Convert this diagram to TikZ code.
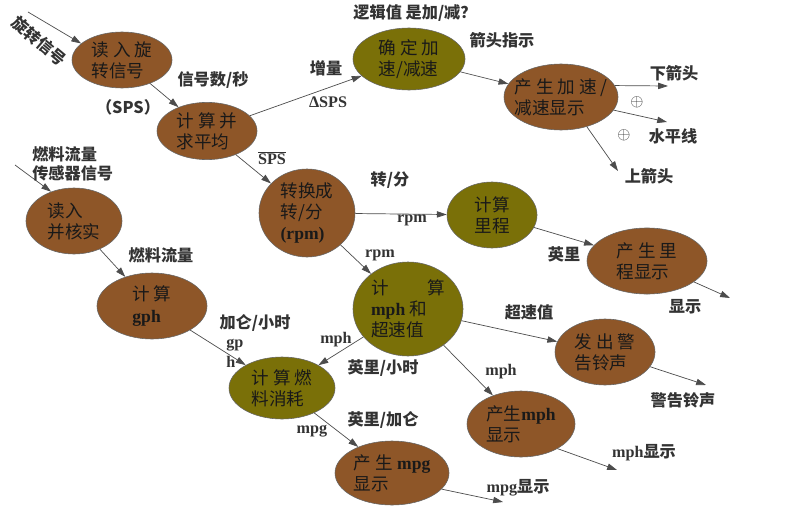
\documentclass[tikz,border=0pt]{standalone}
\usepackage{fontspec}
\setmainfont{Liberation Serif}
\newfontfamily\zhfont{Noto Sans CJK SC}
\newcommand{\zh}[1]{{\zhfont #1}}
\usetikzlibrary{arrows.meta,shapes.geometric}
\definecolor{procbrown}{RGB}{142,86,40}
\definecolor{procolive}{RGB}{122,112,8}

\begin{document}
\begin{tikzpicture}[x=0.025cm,y=-0.025cm,>={Triangle[length=7pt,width=4.5pt]},
  blob/.style={ellipse,draw=black!60,line width=0.4pt,inner sep=0pt},
  brownblob/.style 2 args={blob,fill=procbrown,minimum width=#1cm,minimum height=#2cm},
  oliveblob/.style 2 args={blob,fill=procolive,minimum width=#1cm,minimum height=#2cm},
  blobtext/.style={align=left,font=\fontsize{12.5}{15}\selectfont,text=black!90},
  lbl/.style={font=\bfseries\fontsize{11.5}{14}\selectfont,text=black!80,inner sep=0pt},
  flow/.style={->,draw=black!70,line width=0.5pt}]
\useasboundingbox (0,0) rectangle (799,512);

% processes
\node[brownblob={2.5}{1.4},label={[blobtext]center:{\zh{读 入 旋}\\\zh{转信号}}}] (readrot) at (122,60) {};
\node[brownblob={2.5}{1.43},label={[blobtext]center:{\zh{计 算 并}\\\zh{求平均}}}] (avg) at (207,131) {};
\node[oliveblob={2.8}{1.55},label={[blobtext]center:{\zh{确 定 加}\\\zh{速/减速}}}] (accel) at (409,59) {};
\node[brownblob={2.85}{1.65},label={[blobtext]center:{\zh{产 生 加 速 /}\\\zh{减速显示}}}] (acceldisp) at (561,97) {};
\node[brownblob={2.4}{1.65},label={[blobtext]center:{\zh{读入}\\\zh{并核实}}}] (readfuel) at (74,221) {};
\node[brownblob={2.75}{1.65},label={[blobtext]center:{\zh{计 算}\\\textbf{gph}}}] (gph) at (152,306) {};
\node[brownblob={2.4}{2.2},label={[blobtext]center:{\zh{转换成}\\\zh{转/分}\\\textbf{(rpm)}}}] (rpm) at (307,213) {};
\node[oliveblob={2.25}{1.65},label={[blobtext]center:{\zh{计算}\\\zh{里程}}}] (mileage) at (492,215) {};
\node[oliveblob={2.75}{2.35},label={[blobtext]center:{\zh{计}\hspace{2.2em}\zh{算}\\\textbf{mph} \zh{和}\\\zh{超速值}}}] (mph) at (408,309) {};
\node[brownblob={3.0}{1.65},label={[blobtext]center:{\zh{产 生 里}\\\zh{程显示}}}] (miledisp) at (647,261) {};
\node[brownblob={2.5}{1.65},label={[blobtext]center:{\zh{发 出 警}\\\zh{告铃声}}}] (alarm) at (605,352) {};
\node[brownblob={2.7}{1.65},label={[blobtext]center:{\zh{产生}\textbf{mph}\\\zh{显示}}}] (mphdisp) at (521,424) {};
\node[oliveblob={2.65}{1.55},label={[blobtext]center:{\zh{计 算 燃}\\\zh{料消耗}}}] (fuelcons) at (282,388) {};
\node[brownblob={2.85}{1.6},label={[blobtext]center:{\zh{产 生} \textbf{mpg}\\\zh{显示}}}] (mpgdisp) at (392,473) {};

% free ends
\coordinate (rotin) at (28,12);
\coordinate (fuelin) at (15,165);
\coordinate (downout) at (668,86);
\coordinate (levelout) at (667,122);
\coordinate (upout) at (618,171);
\coordinate (mileout) at (730,298);
\coordinate (alarmout) at (706,385);
\coordinate (mphout) at (617,470);
\coordinate (mpgout) at (503,502);

% flows
\draw[flow] (rotin) -- (readrot.158);
\draw[flow] (readrot) -- (avg);
\draw[flow] (avg) -- (accel);
\draw[flow] (accel) -- (acceldisp);
\draw[flow] (acceldisp.12) -- (downout);
\draw[flow] (acceldisp.-14) -- (levelout);
\draw[flow] (acceldisp.-49) -- (upout);
\draw[flow] (avg) -- (rpm);
\draw[flow] (fuelin) -- (readfuel.128);
\draw[flow] (readfuel) -- (gph);
\draw[flow] (gph) -- (fuelcons);
\draw[flow] (rpm) -- (mileage);
\draw[flow] (rpm) -- (mph);
\draw[flow] (mileage) -- (miledisp);
\draw[flow] (miledisp) -- (mileout);
\draw[flow] (mph) -- (alarm);
\draw[flow] (mph) -- (fuelcons);
\draw[flow] (mph) -- (mphdisp);
\draw[flow] (alarm) -- (alarmout);
\draw[flow] (mphdisp.-34) -- (mphout);
\draw[flow] (fuelcons) -- (mpgdisp);
\draw[flow] (mpgdisp.-18) -- (mpgout);

% data labels
\node[lbl,rotate=-40] (rotsig) at (39,41) {\zh{旋转信号}};
\node[lbl] (spsword) at (213,80) {\zh{信号数/秒}};
\node[lbl] (spsabbr) at (128,107) {\zh{（SPS）}};
\node[lbl] (incr) at (326,68) {\zh{增量}};
\node[lbl] (dsps) at (328,102) {ΔSPS};
\node[lbl] (logic) at (415,13) {\zh{逻辑值 是加/减？}};
\node[lbl] (arrowind) at (502,40) {\zh{箭头指示}};
\node[lbl] (downtxt) at (674,73) {\zh{下箭头}};
\node[lbl] (plusa) at (637,102) {$\oplus$};
\node[lbl] (plusb) at (624,135) {$\oplus$};
\node[lbl] (leveltxt) at (673,136) {\zh{水平线}};
\node[lbl] (uptxt) at (649,176) {\zh{上箭头}};
\node[lbl] (spsmean) at (272,158) {$\overline{\mbox{SPS}}$};
\node[lbl,align=left,anchor=west] (fuelsens) at (32,164) {\zh{燃料流量}\\\zh{传感器信号}};
\node[lbl] (fuelflow) at (161,255) {\zh{燃料流量}};
\node[lbl] (galhr) at (255,323) {\zh{加仑/小时}};
\node[lbl,align=left,anchor=north west] (gphsplit) at (226,339) {gp\\h};
\node[lbl] (rpmword) at (390,180) {\zh{转/分}};
\node[lbl] (rpma) at (412,220) {rpm};
\node[lbl] (rpmb) at (380,255) {rpm};
\node[lbl] (miles) at (564,254) {\zh{英里}};
\node[lbl] (showtxt) at (685,307) {\zh{显示}};
\node[lbl] (overspeed) at (529,312) {\zh{超速值}};
\node[lbl] (mpha) at (501,372) {mph};
\node[lbl] (alarmtxt) at (683,400) {\zh{警告铃声}};
\node[lbl] (mphshow) at (644,453) {mph\zh{显示}};
\node[lbl] (mpgshow) at (518,488) {mpg\zh{显示}};
\node[lbl] (mphb) at (336,340) {mph};
\node[lbl] (milehr) at (383,368) {\zh{英里/小时}};
\node[lbl] (milegal) at (383,420) {\zh{英里/加仑}};
\node[lbl] (mpgtxt) at (312,431) {mpg};
\end{tikzpicture}
\end{document}
